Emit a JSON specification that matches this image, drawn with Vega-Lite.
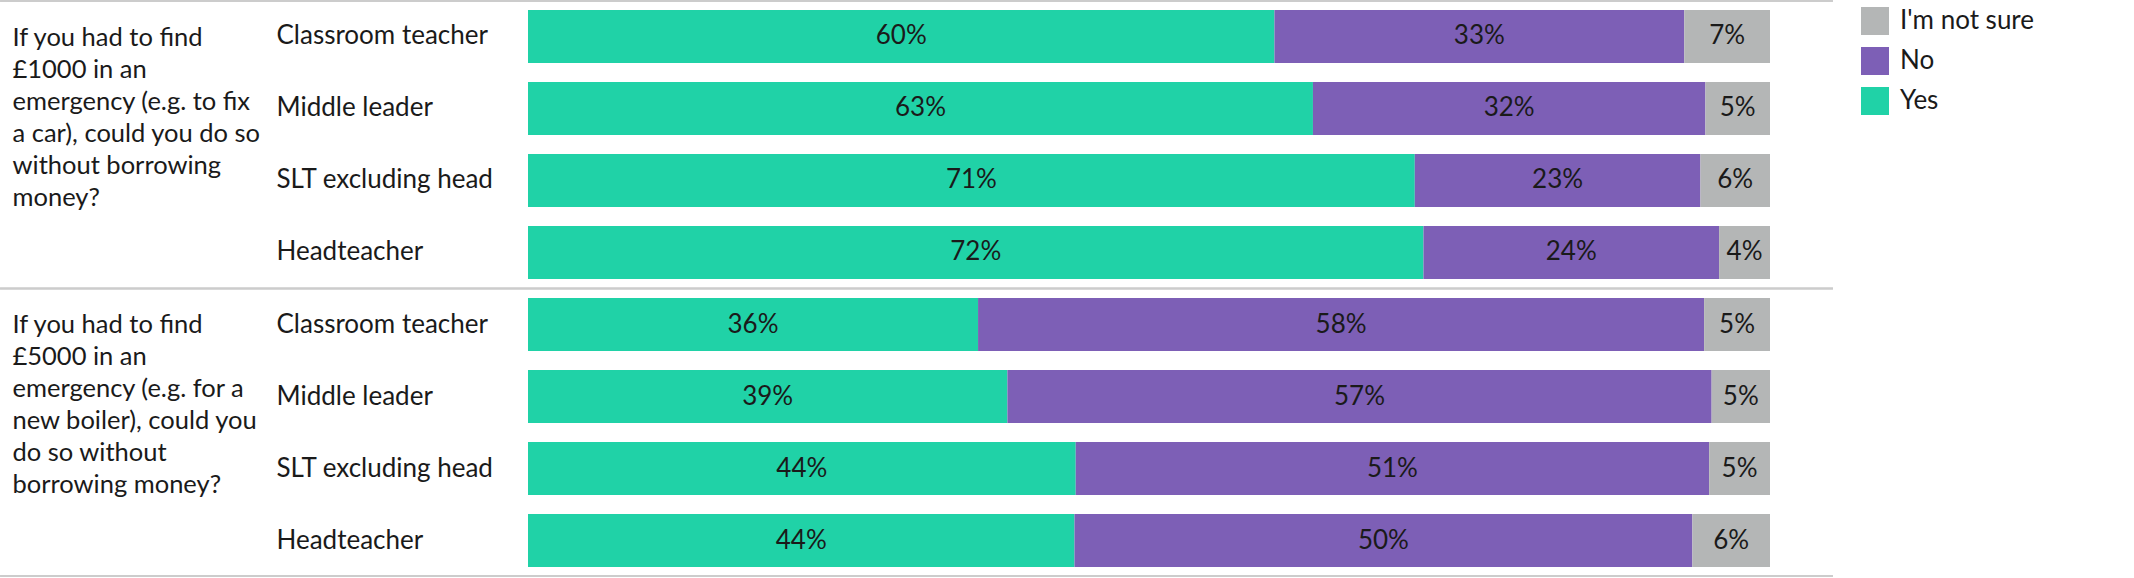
{
  "$schema": "https://vega.github.io/schema/vega-lite/v6.json",
  "width": 1242,
  "height": 575,
  "autosize": "none",
  "padding": {"left": 528, "top": 1, "right": 364, "bottom": 2},
  "config": {"font": "Lato", "view": {"stroke": null}},
  "data": {
    "values": [
      {"question": "If you had to find\n£1000 in an\nemergency (e.g. to fix\na car), could you do so\nwithout borrowing\nmoney?", "key": "1 Classroom teacher", "role": "Classroom teacher", "answer": "Yes", "value": 0.601},
      {"question": "If you had to find\n£1000 in an\nemergency (e.g. to fix\na car), could you do so\nwithout borrowing\nmoney?", "key": "1 Classroom teacher", "role": "Classroom teacher", "answer": "No", "value": 0.33},
      {"question": "If you had to find\n£1000 in an\nemergency (e.g. to fix\na car), could you do so\nwithout borrowing\nmoney?", "key": "1 Classroom teacher", "role": "Classroom teacher", "answer": "I'm not sure", "value": 0.069},
      {"question": "If you had to find\n£1000 in an\nemergency (e.g. to fix\na car), could you do so\nwithout borrowing\nmoney?", "key": "2 Middle leader", "role": "Middle leader", "answer": "Yes", "value": 0.632},
      {"question": "If you had to find\n£1000 in an\nemergency (e.g. to fix\na car), could you do so\nwithout borrowing\nmoney?", "key": "2 Middle leader", "role": "Middle leader", "answer": "No", "value": 0.316},
      {"question": "If you had to find\n£1000 in an\nemergency (e.g. to fix\na car), could you do so\nwithout borrowing\nmoney?", "key": "2 Middle leader", "role": "Middle leader", "answer": "I'm not sure", "value": 0.052},
      {"question": "If you had to find\n£1000 in an\nemergency (e.g. to fix\na car), could you do so\nwithout borrowing\nmoney?", "key": "3 SLT excluding head", "role": "SLT excluding head", "answer": "Yes", "value": 0.714},
      {"question": "If you had to find\n£1000 in an\nemergency (e.g. to fix\na car), could you do so\nwithout borrowing\nmoney?", "key": "3 SLT excluding head", "role": "SLT excluding head", "answer": "No", "value": 0.23},
      {"question": "If you had to find\n£1000 in an\nemergency (e.g. to fix\na car), could you do so\nwithout borrowing\nmoney?", "key": "3 SLT excluding head", "role": "SLT excluding head", "answer": "I'm not sure", "value": 0.056},
      {"question": "If you had to find\n£1000 in an\nemergency (e.g. to fix\na car), could you do so\nwithout borrowing\nmoney?", "key": "4 Headteacher", "role": "Headteacher", "answer": "Yes", "value": 0.721},
      {"question": "If you had to find\n£1000 in an\nemergency (e.g. to fix\na car), could you do so\nwithout borrowing\nmoney?", "key": "4 Headteacher", "role": "Headteacher", "answer": "No", "value": 0.238},
      {"question": "If you had to find\n£1000 in an\nemergency (e.g. to fix\na car), could you do so\nwithout borrowing\nmoney?", "key": "4 Headteacher", "role": "Headteacher", "answer": "I'm not sure", "value": 0.041},
      {"question": "If you had to find\n£5000 in an\nemergency (e.g. for a\nnew boiler), could you\ndo so without\nborrowing money?", "key": "5 Classroom teacher", "role": "Classroom teacher", "answer": "Yes", "value": 0.362},
      {"question": "If you had to find\n£5000 in an\nemergency (e.g. for a\nnew boiler), could you\ndo so without\nborrowing money?", "key": "5 Classroom teacher", "role": "Classroom teacher", "answer": "No", "value": 0.584},
      {"question": "If you had to find\n£5000 in an\nemergency (e.g. for a\nnew boiler), could you\ndo so without\nborrowing money?", "key": "5 Classroom teacher", "role": "Classroom teacher", "answer": "I'm not sure", "value": 0.053},
      {"question": "If you had to find\n£5000 in an\nemergency (e.g. for a\nnew boiler), could you\ndo so without\nborrowing money?", "key": "6 Middle leader", "role": "Middle leader", "answer": "Yes", "value": 0.386},
      {"question": "If you had to find\n£5000 in an\nemergency (e.g. for a\nnew boiler), could you\ndo so without\nborrowing money?", "key": "6 Middle leader", "role": "Middle leader", "answer": "No", "value": 0.567},
      {"question": "If you had to find\n£5000 in an\nemergency (e.g. for a\nnew boiler), could you\ndo so without\nborrowing money?", "key": "6 Middle leader", "role": "Middle leader", "answer": "I'm not sure", "value": 0.047},
      {"question": "If you had to find\n£5000 in an\nemergency (e.g. for a\nnew boiler), could you\ndo so without\nborrowing money?", "key": "7 SLT excluding head", "role": "SLT excluding head", "answer": "Yes", "value": 0.441},
      {"question": "If you had to find\n£5000 in an\nemergency (e.g. for a\nnew boiler), could you\ndo so without\nborrowing money?", "key": "7 SLT excluding head", "role": "SLT excluding head", "answer": "No", "value": 0.51},
      {"question": "If you had to find\n£5000 in an\nemergency (e.g. for a\nnew boiler), could you\ndo so without\nborrowing money?", "key": "7 SLT excluding head", "role": "SLT excluding head", "answer": "I'm not sure", "value": 0.049},
      {"question": "If you had to find\n£5000 in an\nemergency (e.g. for a\nnew boiler), could you\ndo so without\nborrowing money?", "key": "8 Headteacher", "role": "Headteacher", "answer": "Yes", "value": 0.44},
      {"question": "If you had to find\n£5000 in an\nemergency (e.g. for a\nnew boiler), could you\ndo so without\nborrowing money?", "key": "8 Headteacher", "role": "Headteacher", "answer": "No", "value": 0.4975},
      {"question": "If you had to find\n£5000 in an\nemergency (e.g. for a\nnew boiler), could you\ndo so without\nborrowing money?", "key": "8 Headteacher", "role": "Headteacher", "answer": "I'm not sure", "value": 0.0625}
    ]
  },
  "layer": [
    {
      "encoding": {
        "y": {
          "field": "key",
          "type": "nominal",
          "sort": null,
          "scale": {"paddingInner": 0.264, "paddingOuter": 0.125},
          "axis": {
            "title": null,
            "orient": "left",
            "ticks": false,
            "domain": false,
            "labelAlign": "left",
            "labelPadding": 252,
            "labelFont": "Lato",
            "labelFontSize": 26,
            "labelColor": "#1a1a1a",
            "labelLimit": 400,
            "labelExpr": "substring(datum.value, 2)"
          }
        },
        "x": {
          "field": "value",
          "type": "quantitative",
          "stack": "normalize",
          "scale": {"domain": [0, 1]},
          "axis": null
        },
        "order": {"field": "answer", "sort": "descending"}
      },
      "layer": [
        {
          "mark": {"type": "bar"},
          "encoding": {
            "color": {
              "field": "answer",
              "type": "nominal",
              "scale": {
                "domain": ["I'm not sure", "No", "Yes"],
                "range": ["#b4b6b6", "#7d5fb6", "#20d2a7"]
              },
              "legend": {
                "title": null,
                "orient": "right",
                "offset": 85,
                "padding": 6,
                "symbolType": "square",
                "symbolSize": 784,
                "symbolStrokeWidth": 0,
                "symbolOpacity": 1,
                "rowPadding": 12,
                "labelOffset": 11,
                "labelFont": "Lato",
                "labelFontSize": 26,
                "labelColor": "#1a1a1a",
                "labelLimit": 300
              }
            }
          }
        },
        {
          "mark": {"type": "text", "font": "Lato", "fontSize": 26, "color": "#1a1a1a", "baseline": "middle"},
          "encoding": {
            "x": {
              "field": "value",
              "type": "quantitative",
              "stack": "normalize",
              "bandPosition": 0.5,
              "scale": {"domain": [0, 1]}
            },
            "text": {"field": "value", "type": "quantitative", "format": ".0%"}
          }
        }
      ]
    },
    {
      "transform": [{"filter": "datum.role == 'Classroom teacher' && datum.answer == 'Yes'"}],
      "encoding": {
        "y": {
          "field": "question",
          "type": "nominal",
          "sort": null,
          "scale": {"paddingInner": 0, "paddingOuter": 0},
          "axis": {
            "title": null,
            "orient": "left",
            "ticks": false,
            "domain": false,
            "labelAlign": "left",
            "labelBaseline": "alphabetic",
            "labelOffset": -99,
            "labelLineHeight": 32,
            "labelPadding": 516,
            "labelFont": "Lato",
            "labelFontSize": 25.5,
            "labelColor": "#1a1a1a",
            "labelLimit": 400,
            "labelOverlap": false,
            "labelBound": false,
            "labelFlush": false,
            "labelExpr": "split(datum.value, '\\n')"
          }
        },
        "x": {"datum": -0.4251, "type": "quantitative", "scale": {"domain": [0, 1]}},
        "x2": {"datum": 1.0507}
      },
      "layer": [
        {
          "mark": {"type": "rule", "color": "#cccccc", "strokeWidth": 2},
          "encoding": {"y": {"field": "question", "type": "nominal", "sort": null, "bandPosition": 0}}
        },
        {
          "mark": {"type": "rule", "color": "#cccccc", "strokeWidth": 2},
          "encoding": {"y": {"field": "question", "type": "nominal", "sort": null, "bandPosition": 1}}
        }
      ]
    }
  ],
  "resolve": {"scale": {"y": "independent"}}
}
